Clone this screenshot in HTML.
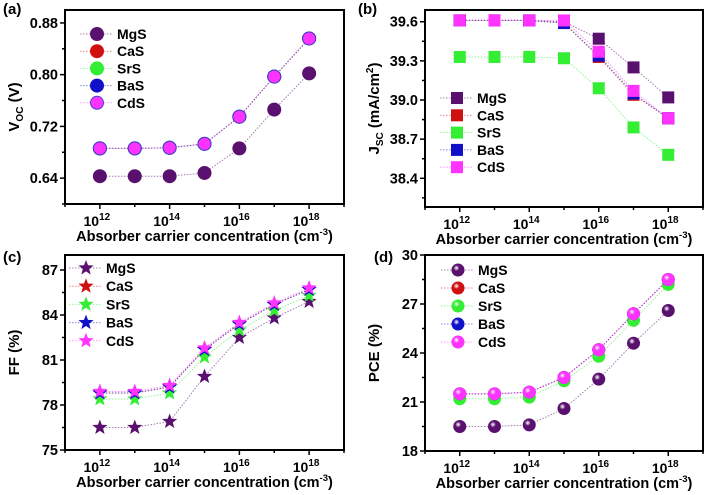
<!DOCTYPE html>
<html><head><meta charset="utf-8"><style>
html,body{margin:0;padding:0;background:#fff;}
svg{display:block;font-family:"Liberation Sans",Arial,sans-serif;font-weight:bold;}
</style></head><body>
<svg id="fig" width="708" height="495" viewBox="0 0 708 495" xmlns="http://www.w3.org/2000/svg"></svg>
<script>
const xExp = [12,13,14,15,16,17,18];
const seriesNames = ["MgS","CaS","SrS","BaS","CdS"];
const seriesColors = ["#5a106e","#d01010","#33ee33","#1010c8","#ff33ff"];
// (a) Voc
const vocMgS = [0.643,0.643,0.643,0.648,0.686,0.746,0.802];
const vocCaS = [0.686,0.686,0.687,0.693,0.735,0.797,0.856];
const vocSrS = [0.686,0.686,0.687,0.693,0.735,0.797,0.856];
const vocBaS = [0.686,0.686,0.687,0.693,0.735,0.797,0.856];
const vocCdS = [0.686,0.686,0.687,0.693,0.735,0.797,0.856];
const vocTicks = [0.64,0.72,0.80,0.88];
// (b) Jsc
const jscMgS = [39.61,39.61,39.61,39.60,39.47,39.25,39.02];
const jscCaS = [39.61,39.61,39.61,39.59,39.33,39.04,38.86];
const jscSrS = [39.33,39.33,39.33,39.32,39.09,38.79,38.58];
const jscBaS = [39.61,39.61,39.61,39.59,39.34,39.05,38.86];
const jscCdS = [39.61,39.61,39.61,39.61,39.37,39.07,38.86];
const jscTicks = [38.4,38.7,39.0,39.3,39.6];
// (c) FF
const ffMgS = [76.5,76.5,76.9,79.9,82.5,83.8,84.9];
const ffCaS = [78.8,78.8,79.2,81.7,83.4,84.7,85.7];
const ffSrS = [78.4,78.4,78.8,81.2,83.0,84.3,85.3];
const ffBaS = [78.8,78.8,79.2,81.7,83.4,84.7,85.7];
const ffCdS = [78.9,78.9,79.3,81.8,83.5,84.8,85.8];
const ffTicks = [75,78,81,84,87];
// (d) PCE
const pceMgS = [19.5,19.5,19.6,20.6,22.4,24.6,26.6];
const pceCaS = [21.5,21.5,21.6,22.5,24.2,26.4,28.5];
const pceSrS = [21.2,21.2,21.3,22.3,23.8,26.0,28.2];
const pceBaS = [21.5,21.5,21.6,22.5,24.2,26.4,28.5];
const pceCdS = [21.5,21.5,21.6,22.5,24.2,26.4,28.5];
const pceTicks = [18,21,24,27,30];
const xTickExp = [12,14,16,18];

const NS="http://www.w3.org/2000/svg";
const svg=document.getElementById('fig');
function mk(tag,attrs,parent){const e=document.createElementNS(NS,tag);for(const k in attrs)e.setAttribute(k,attrs[k]);(parent||svg).appendChild(e);return e;}
const defs=mk('defs',{});
seriesColors.forEach((c,i)=>{const g=mk('radialGradient',{id:'sph'+i,cx:'0.38',cy:'0.35',r:'0.65'},defs);mk('stop',{offset:'0','stop-color':'#fff','stop-opacity':'0.85'},g);mk('stop',{offset:'0.35','stop-color':c},g);mk('stop',{offset:'1','stop-color':c},g);});

function starPts(cx,cy,R){let p=[];for(let i=0;i<10;i++){const r=i%2?R*0.42:R;const a=-Math.PI/2+i*Math.PI/5;p.push((cx+r*Math.cos(a)).toFixed(1)+','+(cy+r*Math.sin(a)).toFixed(1));}return p.join(' ');}
function marker(g,type,i,x,y){
  const c=seriesColors[i];let e;
  if(type==='circle'){e=mk('circle',{cx:x,cy:y,r:6.5,fill:c,stroke:i===4?'#4040d0':c,'stroke-width':1},g);}
  else if(type==='square'){e=mk('rect',{x:x-6,y:y-6,width:12,height:12,fill:c},g);}
  else if(type==='star'){e=mk('polygon',{points:starPts(x,y,8),fill:c},g);}
  else {e=mk('circle',{cx:x,cy:y,r:6.5,fill:'url(#sph'+i+')'},g);}
  return e;
}
function panel(o){
  const g=mk('g',{});
  
  
  const X=v=>o.L+(v-11)/(8)*(o.R-o.L);
  const Y=v=>o.B-(v-o.ymin)/(o.ymax-o.ymin)*(o.B-o.T);
  const fr=mk('rect',{x:o.L,y:o.T,width:o.R-o.L,height:o.B-o.T,fill:'none',stroke:'#000','stroke-width':2},g);
  
  
  for(let e=11;e<=19;e++){const x=X(e);const major=xTickExp.includes(e);mk('line',{x1:x,x2:x,y1:o.B,y2:o.B+(major?5:3),stroke:'#000','stroke-width':1.5},g);}
  xTickExp.forEach(e=>{const t=mk('text',{x:X(e)-3,y:o.B+22,'font-size':14,'text-anchor':'middle'},g);t.textContent='10';const s=mk('tspan',{dy:-6,'font-size':10},t);s.textContent=String(e);});
  const st=o.ticks[1]-o.ticks[0];
  for(let v=o.ticks[0]-st;v<=o.ymax+1e-9;v+=st/2){if(v<o.ymin-1e-9)continue;const y=Y(v);const major=o.ticks.some(t=>Math.abs(t-v)<1e-6);mk('line',{x1:o.L,x2:o.L-(major?5:3),y1:y,y2:y,stroke:'#000','stroke-width':1.5},g);}
  o.ticks.forEach(v=>{const t=mk('text',{x:o.L-7,y:Y(v)+5,'font-size':14.5,'text-anchor':'end'},g);t.textContent=v.toFixed(o.dec);});
  const xt=mk('text',{x:(o.L+o.R)/2,y:o.B+37,'font-size':14.5,'text-anchor':'middle'},g);xt.innerHTML='Absorber carrier concentration (cm<tspan dy="-6" font-size="9.5">-3</tspan><tspan dy="6">)</tspan>';
  
  const yt=mk('text',{transform:`translate(${o.L-46},${(o.T+o.B)/2}) rotate(-90)`,'font-size':15,'text-anchor':'middle'},g);yt.innerHTML=o.ytitle;
  
  const pl=mk('text',{x:o.plx,y:o.ply,'font-size':15},g);pl.textContent=o.label;
  
  o.data.forEach((arr,i)=>{
    const pts=arr.map((v,j)=>X(xExp[j])+','+Y(v)).join(' ');
    const ln=mk('polyline',{points:pts,fill:'none',stroke:seriesColors[i],'stroke-opacity':0.55,'stroke-width':1,'stroke-dasharray':'1.5,1.5'},g);
    
    
    arr.forEach((v,j)=>{const m=marker(g,o.type,i,X(xExp[j]),Y(v));
      
      });
  });
  seriesNames.forEach((n,i)=>{const y=o.ly+i*o.lsp;
    mk('line',{x1:o.lx-17,x2:o.lx+15,y1:y,y2:y,stroke:seriesColors[i],'stroke-opacity':0.5,'stroke-width':1,'stroke-dasharray':'1.5,1.5'},g);
    const m=marker(g,o.type,i,o.lx,y);
    
    
    const t=mk('text',{x:o.lx+20,y:y+5,'font-size':14},g);t.textContent=n;
    
    
  });
}
panel({name:'voc-panel',L:65,R:344,T:10,B:204,ymin:0.60,ymax:0.90,ticks:vocTicks,dec:2,type:'circle',
  data:[vocMgS,vocCaS,vocSrS,vocBaS,vocCdS],ytitle:'V<tspan dy="4" font-size="10">OC</tspan><tspan dy="-4"> (V)</tspan>',label:'(a)',plx:3,ply:14,lx:97,ly:34,lsp:17.2});
panel({name:'jsc-panel',L:425,R:703,T:10,B:207,ymin:38.18,ymax:39.69,ticks:jscTicks,dec:1,type:'square',
  data:[jscMgS,jscCaS,jscSrS,jscBaS,jscCdS],ytitle:'J<tspan dy="4" font-size="10">SC</tspan><tspan dy="-4"> (mA/cm</tspan><tspan dy="-6" font-size="10">2</tspan><tspan dy="6">)</tspan>',label:'(b)',plx:358,ply:14,lx:457,ly:98,lsp:17.3});
panel({name:'ff-panel',L:65,R:344,T:255,B:450,ymin:75,ymax:88,ticks:ffTicks,dec:0,type:'star',
  data:[ffMgS,ffCaS,ffSrS,ffBaS,ffCdS],ytitle:'FF (%)',label:'(c)',plx:3,ply:262,lx:86,ly:268,lsp:18.2});
panel({name:'pce-panel',L:425,R:703,T:255,B:451,ymin:18,ymax:30,ticks:pceTicks,dec:0,type:'sphere',
  data:[pceMgS,pceCaS,pceSrS,pceBaS,pceCdS],ytitle:'PCE (%)',label:'(d)',plx:374,ply:262,lx:458,ly:270,lsp:18});
</script>
</body></html>
